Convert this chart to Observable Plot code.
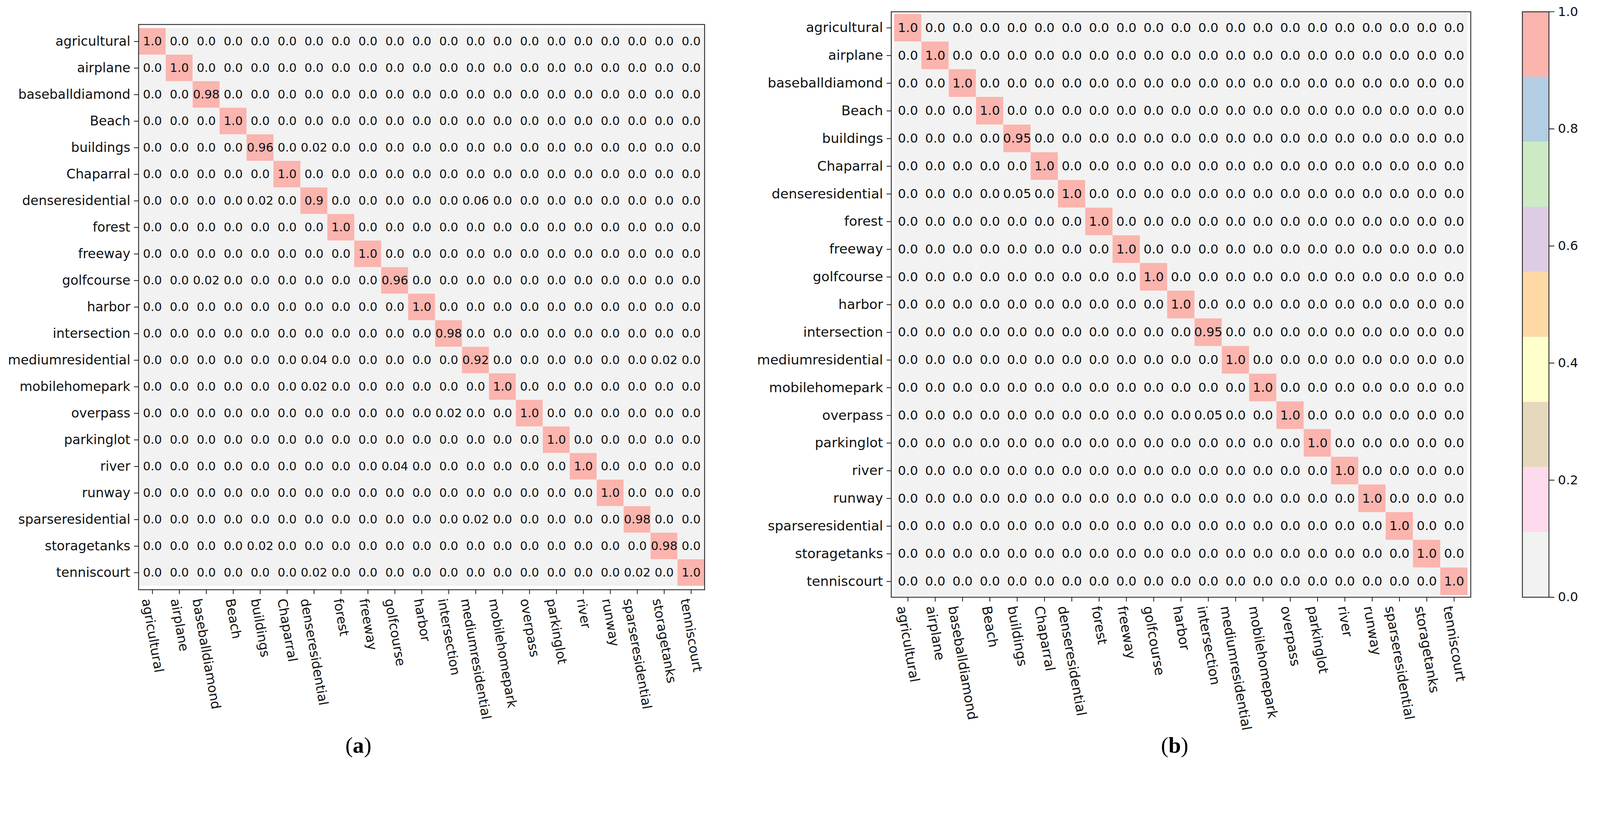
<!DOCTYPE html>
<html><head><meta charset="utf-8">
<script src="https://cdn.jsdelivr.net/npm/d3@7"></script>
<script src="https://cdn.jsdelivr.net/npm/@observablehq/plot@0.6"></script>
<style>
html,body{margin:0;padding:0;background:#fff;overflow:hidden;}
#page{position:relative;width:4277px;height:2130px;overflow:hidden;background:#fff;transform-origin:0 0;}
.panel{position:absolute;top:0;}
.cap{position:absolute;font-family:"Liberation Serif","DejaVu Serif",serif;font-size:60px;line-height:1;color:#000;transform:translateX(-50%);white-space:nowrap;}
</style></head><body><div id="page"></div>
<script>
// ---- data ----
const classes = ["agricultural","airplane","baseballdiamond","Beach","buildings","Chaparral","denseresidential","forest","freeway","golfcourse","harbor","intersection","mediumresidential","mobilehomepark","overpass","parkinglot","river","runway","sparseresidential","storagetanks","tenniscourt"];

// (a) diagonal values and off-diagonal non-zero entries
const diagA = [1.0,1.0,0.98,1.0,0.96,1.0,0.9,1.0,1.0,0.96,1.0,0.98,0.92,1.0,1.0,1.0,1.0,1.0,0.98,0.98,1.0];
const offTrueA = ["buildings","denseresidential","denseresidential","golfcourse","mediumresidential","mediumresidential","mobilehomepark","overpass","river","sparseresidential","storagetanks","tenniscourt","tenniscourt"];
const offPredA = ["denseresidential","buildings","mediumresidential","baseballdiamond","denseresidential","storagetanks","denseresidential","intersection","golfcourse","mediumresidential","buildings","denseresidential","sparseresidential"];
const offValA  = [0.02,0.02,0.06,0.02,0.04,0.02,0.02,0.02,0.04,0.02,0.02,0.02,0.02];

// (b)
const diagB = [1.0,1.0,1.0,1.0,0.95,1.0,1.0,1.0,1.0,1.0,1.0,0.95,1.0,1.0,1.0,1.0,1.0,1.0,1.0,1.0,1.0];
const offTrueB = ["denseresidential","overpass"];
const offPredB = ["buildings","intersection"];
const offValB  = [0.05,0.05];

// colormap (Pastel1 reversed, 9 bins) and colorbar ticks
const cmapColors = ["#f2f2f2","#fddaec","#e5d8bd","#ffffcc","#fed9a6","#decbe4","#ccebc5","#b3cde3","#fbb4ae"];
const colorTicks = [0, 0.2, 0.4, 0.6, 0.8, 1.0];
const captions = ["a","b"];

// ---- helpers ----
function buildCells(diag, offT, offP, offV) {
  const n = classes.length, cells = [];
  for (const t of classes) for (const p of classes) cells.push({t, p, v: 0});
  diag.forEach((v, i) => { cells[i * n + i].v = v; });
  offT.forEach((t, k) => { cells[classes.indexOf(t) * n + classes.indexOf(offP[k])].v = offV[k]; });
  return cells;
}
function fmt(v) { const s = String(Math.round(v * 100) / 100); return s.includes(".") ? s : s + ".0"; }

const nC = cmapColors.length;
const colorOpt = {type: "threshold", domain: d3.range(1, nC).map(i => i / nC), range: cmapColors};
const FONT = '"DejaVu Sans", sans-serif';
const ROT = 80;

function matrix(cells, o) {
  return Plot.plot({
    width: o.width, height: o.height,
    marginLeft: o.ml, marginRight: o.mr, marginTop: o.mt, marginBottom: o.mb,
    style: {fontFamily: FONT, fontSize: o.labelSize + "px", color: "#111", background: "transparent"},
    x: {domain: classes, padding: 0, label: null},
    y: {domain: classes, padding: 0, label: null},
    color: colorOpt,
    marks: [
      Plot.cell(cells, {x: "p", y: "t", fill: "v", inset: 0}),
      Plot.text(cells, {x: "p", y: "t", text: d => fmt(d.v), fontSize: o.numSize, fill: "#111"}),
      Plot.frame({stroke: "#333", strokeWidth: 2.5}),
      Plot.axisX({anchor: "bottom", tickRotate: ROT, tickSize: 12, tickPadding: 12, strokeWidth: 2, label: null, fontSize: o.labelSize}),
      Plot.axisY({anchor: "left", tickSize: 12, tickPadding: 10, strokeWidth: 2, label: null, fontSize: o.labelSize})
    ]
  });
}

const page = document.getElementById("page");
function place(el, left, top) { el.classList.add("panel"); el.style.left = left + "px"; el.style.top = top + "px"; page.appendChild(el); }

// center rotated x tick labels on their ticks (like matplotlib's ha="center")
function centerXLabels(svg) {
  const g = svg.querySelector('g[aria-label="x-axis tick label"]');
  if (!g) return;
  const c = Math.cos(ROT * Math.PI / 180);
  g.querySelectorAll("text").forEach(t => {
    const L = t.getComputedTextLength();
    const tr = t.getAttribute("transform") || "";
    t.setAttribute("transform", `translate(${(-L * c / 2).toFixed(2)},0) ` + tr);
  });
}

const plotA = matrix(buildCells(diagA, offTrueA, offPredA, offValA),
  {width: 1950, height: 1980, ml: 370, mr: 67, mt: 65, mb: 404, labelSize: 35, numSize: 32});
place(plotA, 0, 0);
centerXLabels(plotA);

const plotB = matrix(buildCells(diagB, offTrueB, offPredB, offValB),
  {width: 1990, height: 2000, ml: 382, mr: 59, mt: 31, mb: 404, labelSize: 36, numSize: 34});
place(plotB, 2000, 0);
centerXLabels(plotB);

// colorbar
const bins = cmapColors.map((c, i) => ({lo: i / nC, hi: (i + 1) / nC}));
const cbar = Plot.plot({
  width: 210, height: 1646, marginLeft: 2, marginRight: 137, marginTop: 31, marginBottom: 50,
  style: {fontFamily: FONT, fontSize: "34px", color: "#111", background: "transparent"},
  y: {domain: [0, 1], label: null},
  color: colorOpt,
  marks: [
    Plot.rect(bins, {y1: "lo", y2: "hi", fill: d => (d.lo + d.hi) / 2}),
    Plot.frame({stroke: "#333", strokeWidth: 2.5}),
    Plot.axisY({anchor: "right", ticks: colorTicks, tickFormat: d => d.toFixed(1), tickSize: 14, tickPadding: 10, strokeWidth: 2, label: null, fontSize: 34})
  ]
});
place(cbar, 4067, 0);

// captions
[[captions[0], 958], [captions[1], 3140]].forEach(([t, x]) => {
  const d = document.createElement("div");
  d.className = "cap";
  d.style.left = x + "px"; d.style.top = "1962px";
  d.innerHTML = "(<b>" + t + "</b>)";
  page.appendChild(d);
});

// fit the 4277-wide design to the actual viewport
function fit() {
  const s = Math.min(window.innerWidth / 4277, window.innerHeight / 2130);
  page.style.transform = `scale(${s})`;
}
fit();
window.addEventListener("resize", fit);
</script></body></html>
